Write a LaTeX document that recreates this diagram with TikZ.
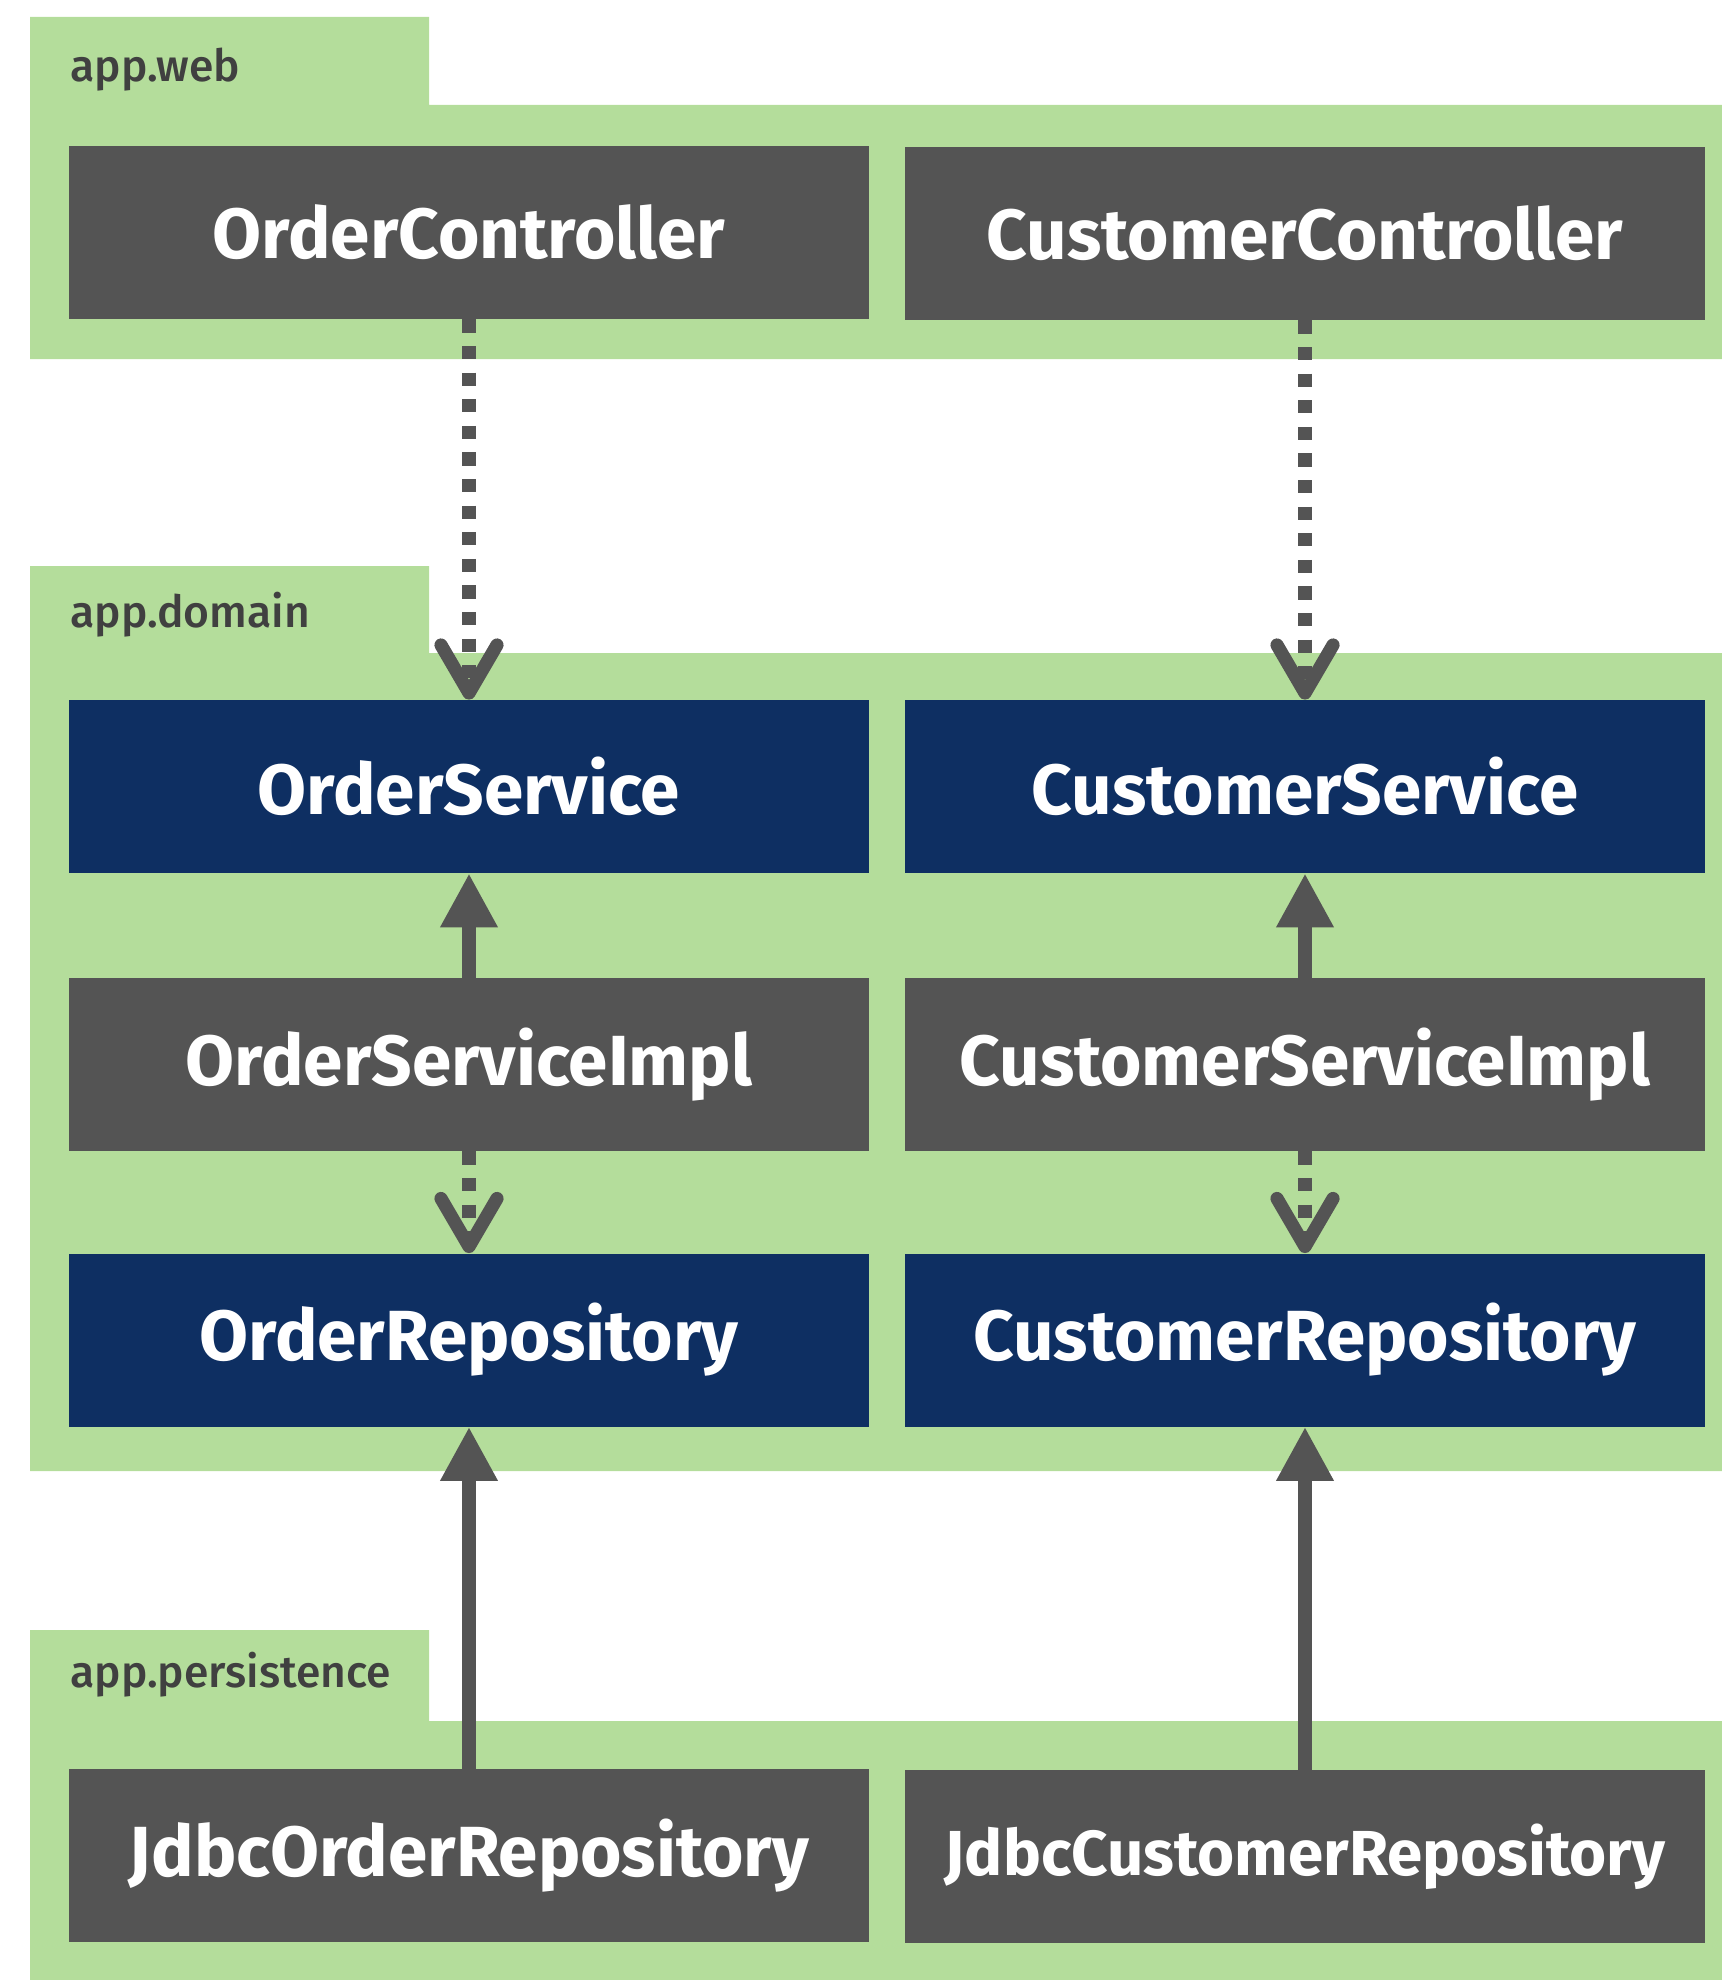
\documentclass[tikz,border=0pt]{standalone}
\usepackage{fontspec}
\setmainfont{Fira Sans}
\newfontfamily\pkgfont{Fira Sans Medium}
\usetikzlibrary{arrows.meta}
\definecolor{pkggreen}{HTML}{B4DD9B}
\definecolor{ink}{HTML}{545454}
\definecolor{navy}{HTML}{0E2F62}
\definecolor{pkgtext}{HTML}{404040}
\tikzset{
  cls/.style={fill=ink,text=white,minimum width=400pt,minimum height=86.5pt,inner sep=0pt,font=\fontsize{35.5}{42}\selectfont\bfseries},
  iface/.style={cls,fill=navy},
  pkglabel/.style={anchor=base west,inner sep=0pt,text=pkgtext,font=\pkgfont\fontsize{22.2}{26}\selectfont},
  uses/.style={-{Straight Barb[length=24pt,width=28pt,round]},ink,line width=6.6pt,dash pattern=on 6.6pt off 6.7pt},
  realizes/.style={-{Triangle[length=27pt,width=27pt]},ink,line width=6.6pt},
}
\begin{document}
\begin{tikzpicture}[x=0.5pt,y=-0.5pt]
\useasboundingbox (0,0) rectangle (1722,1980);
% packages
\fill[pkggreen] (30,17) -- (429,17) -- (429,105) -- (1722,105) -- (1722,359) -- (30,359) -- cycle;
\fill[pkggreen] (30,566) -- (429,566) -- (429,653) -- (1722,653) -- (1722,1471) -- (30,1471) -- cycle;
\fill[pkggreen] (30,1630) -- (429,1630) -- (429,1721) -- (1722,1721) -- (1722,1980) -- (30,1980) -- cycle;
\node[pkglabel] (web)  at (70,82)   {app.web};
\node[pkglabel] (dom)  at (70,627)  {app.domain};
\node[pkglabel] (pers) at (70,1687) {app.persistence};
% classes
\node[cls]   (oc)  at (469,232.5)  {OrderController};
\node[cls]   (cc)  at (1305,233.5) {CustomerController};
\node[iface] (os)  at (469,786.5)  {OrderService};
\node[iface] (cs)  at (1305,786.5) {CustomerService};
\node[cls]   (osi) at (469,1064.5) {OrderServiceImpl};
\node[cls]   (csi) at (1305,1064.5) {CustomerServiceImpl};
\node[iface] (or)  at (469,1340)   {OrderRepository};
\node[iface] (cr)  at (1305,1340)  {CustomerRepository};
\node[cls] (jor) at (469,1855.5)  {JdbcOrderRepository};
\node[cls,font=\fontsize{31.8}{38}\selectfont\bfseries] (jcr) at (1305,1856.5) {JdbcCustomerRepository};
% dependencies
\draw[uses] (oc.south) -- (os.north);
\draw[uses] (cc.south) -- (cs.north);
\draw[uses] (osi.south) -- (or.north);
\draw[uses] (csi.south) -- (cr.north);
\draw[realizes] (osi.north) -- (os.south);
\draw[realizes] (csi.north) -- (cs.south);
\draw[realizes] (jor.north) -- (or.south);
\draw[realizes] (jcr.north) -- (cr.south);
\end{tikzpicture}
\end{document}
